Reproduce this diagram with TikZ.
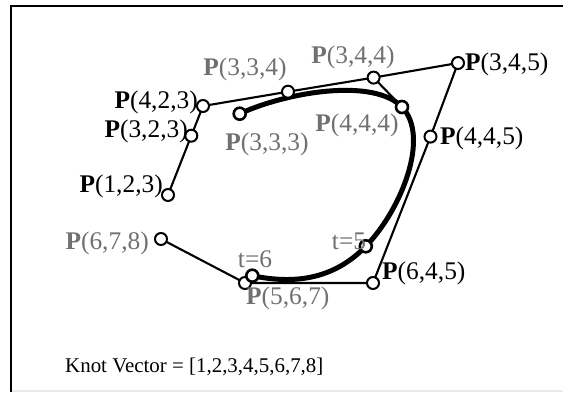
\documentclass[tikz,border=0pt]{standalone}
\usepackage{fontspec}
\setmainfont{Liberation Serif}
\definecolor{labgray}{RGB}{112,112,112}
\definecolor{rulegray}{RGB}{235,235,235}
\newcommand\blosP[1]{\textbf{P}(#1)}
\begin{document}
\begin{tikzpicture}[x=1bp,y=-1bp,
  pt/.style={circle,draw=black,fill=white,line width=2bp,minimum size=12bp,inner sep=0pt},
  ptk/.style={pt,line width=2.6bp},
  lab/.style={font=\fontsize{25.5}{25.5}\selectfont,inner sep=0pt,text=black},
  glab/.style={lab,text=labgray},
  poly/.style={line width=2.1bp,line join=round},
  thick curve/.style={line width=5bp,line cap=round}]
\useasboundingbox (0,0) rectangle (563,392);
% frame
\draw[rulegray,line width=1.5bp] (11,391) -- (563,391);
\draw[line width=2.6bp] (563,6) -- (11,6) -- (11,392);
% control points and blossom values
\coordinate (p123) at (168,195);
\coordinate (p234) at (203,106);
\coordinate (p345) at (458,63);
\coordinate (p456) at (373,283);
\coordinate (p567) at (245,283);
\coordinate (p678) at (161,239);
\coordinate (p233) at (191.3,135.7);
\coordinate (p334) at (288,91.7);
\coordinate (p344) at (373.6,77.6);
\coordinate (p445) at (430.5,136.6);
\coordinate (p455) at (401.3,209.7);
\coordinate (p556) at (330.3,283);
\coordinate (p566) at (287.7,283);
\coordinate (p667) at (217,268.3);
\coordinate (p333) at (239.7,113.7);
\coordinate (p444) at (402,107);
\coordinate (p555) at (365.8,246.3);
\coordinate (p666) at (252.3,275.7);
% control polygon
\draw[poly] (p123) -- (p233) -- (p234) -- (p334) -- (p344) -- (p345) -- (p445) -- (p456) -- (p567) -- (p678);
\draw[poly] (p344) -- (p444);
% the curve
\draw[thick curve] (p333) .. controls (p334) and (p344) .. (p444)
  .. controls (p445) and (p455) .. (p555)
  .. controls (p556) and (p566) .. (p666);
% point markers
\node[pt] (n123) at (p123) {};
\node[pt] (n233) at (p233) {};
\node[pt] (n234) at (p234) {};
\node[pt] (n334) at (p334) {};
\node[pt] (n344) at (p344) {};
\node[pt] (n345) at (p345) {};
\node[pt] (n445) at (p445) {};
\node[pt] (n456) at (p456) {};
\node[pt] (n567) at (p567) {};
\node[pt] (n678) at (p678) {};
\node[ptk] (n333) at (p333) {};
\node[ptk] (n444) at (p444) {};
\node[ptk] (n555) at (p555) {};
\node[ptk] (n666) at (p666) {};
% labels
\node[lab,anchor=east] (l123) at (163,186) {\blosP{1,2,3}};
\node[lab,anchor=east] (l233) at (188,131) {\blosP{3,2,3}};
\node[lab,anchor=east] (l234) at (198,102) {\blosP{4,2,3}};
\node[glab] (l334) at (245,69) {\blosP{3,3,4}};
\node[glab] (l344) at (353,57) {\blosP{3,4,4}};
\node[lab,anchor=west] (l345) at (465,64) {\blosP{3,4,5}};
\node[glab] (l444) at (357,125) {\blosP{4,4,4}};
\node[lab,anchor=west] (l445) at (440,138) {\blosP{4,4,5}};
\node[glab] (l333) at (267,144) {\blosP{3,3,3}};
\node[glab] (l555) at (349,241) {t=5};
\node[lab,anchor=west] (l456) at (382,273) {\blosP{6,4,5}};
\node[glab] (l666) at (255,259) {t=6};
\node[glab,anchor=west] (l567) at (246,298) {\blosP{5,6,7}};
\node[glab,anchor=east] (l678) at (149,243) {\blosP{6,7,8}};
\node[lab,anchor=west,font=\fontsize{21}{21}\selectfont] (knot) at (65,367) {Knot Vector = [1,2,3,4,5,6,7,8]};
\end{tikzpicture}
\end{document}
